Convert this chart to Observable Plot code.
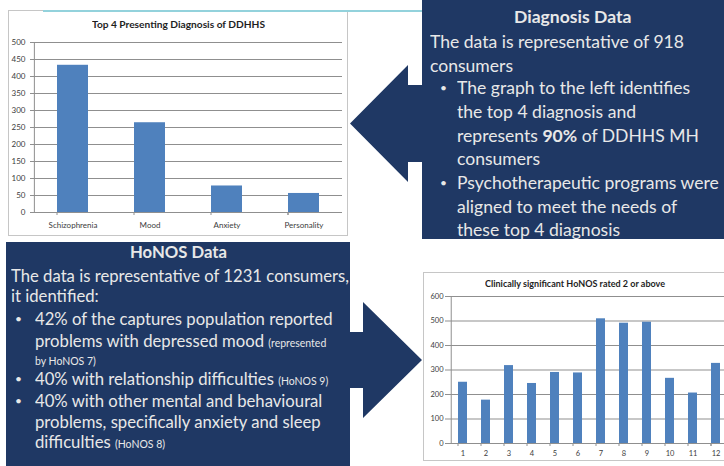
<!DOCTYPE html>
<html><head><meta charset="utf-8">
<script src="https://cdn.jsdelivr.net/npm/d3@7"></script>
<script src="https://cdn.jsdelivr.net/npm/@observablehq/plot@0.6"></script>
<style>
html,body{margin:0;padding:0;background:#fff;}
#slide{position:relative;width:724px;height:466px;overflow:hidden;background:#fff;font-family:Lato,"Open Sans",sans-serif;}
.frame{position:absolute;background:#fff;border:1px solid #c6c6c6;box-sizing:border-box;}
.ctitle{position:absolute;font-weight:bold;color:#1e1e1e;white-space:nowrap;line-height:1;transform-origin:0 50%;}
.line{position:absolute;white-space:nowrap;color:#e8e8e8;line-height:1;transform-origin:0 50%;}
.line small{font-size:11px;}
</style></head><body><div id="slide"></div>
<script>
// ---------- data ----------
const diagCategories = ["Schizophrenia", "Mood", "Anxiety", "Personality"];
const diagCounts = [433, 264, 78, 56];
const diagTicks = [0, 50, 100, 150, 200, 250, 300, 350, 400, 450, 500];

const honosItems = ["1","2","3","4","5","6","7","8","9","10","11","12"];
const honosCounts = [250, 177, 318, 245, 290, 288, 509, 491, 495, 266, 206, 327];
const honosTicks = [0, 100, 200, 300, 400, 500, 600];

const diagTable = diagCategories.map((c, i) => ({category: c, count: diagCounts[i]}));
const honosTable = honosItems.map((c, i) => ({item: c, count: honosCounts[i]}));

const slide = document.getElementById("slide");
const BLUE = "#4f81bd", GRID = "#8f8f8f", NAVY = "#1f3864";

// ---------- chart frames ----------
function frame(l, t, w, h) {
  const d = document.createElement("div");
  d.className = "frame";
  Object.assign(d.style, {left: l + "px", top: t + "px", width: w + "px", height: h + "px"});
  slide.appendChild(d);
}
frame(8, 10, 340, 226);
frame(423, 272, 320, 189);

// teal rule at top of slide
const teal = document.createElement("div");
Object.assign(teal.style, {position: "absolute", left: "43px", top: "10px", width: "380px", height: "1.5px", background: "#93d2dc"});
slide.appendChild(teal);

// ---------- helper: band charts ----------
function bandChart({table, xKey, domain, yMax, ticks, width, height, ml, mr, mt, mb, fontSize, tickPad, xPad}) {
  const n = domain.length;
  const step = (width - ml - mr) / n;
  const tickLen = 3 * yMax / (height - mt - mb);
  const bounds = domain.map(d => ({c: d, dx: -step / 2})).concat([{c: domain[n - 1], dx: step / 2}]);
  return Plot.plot({
    width, height, marginLeft: ml, marginRight: mr, marginTop: mt, marginBottom: mb,
    style: {background: "transparent", fontFamily: "Lato, sans-serif", fontSize: fontSize + "px", color: "#3c3c3c", overflow: "visible"},
    x: {domain, paddingInner: 0.6, paddingOuter: 0.3, label: null},
    y: {domain: [0, yMax], label: null},
    marks: [
      Plot.gridY(ticks.filter(t => t > 0), {stroke: GRID, strokeOpacity: 1}),
      Plot.barY(table, {x: xKey, y: "count", fill: BLUE}),
      Plot.ruleY([0], {stroke: GRID}),
      Plot.ruleX([bounds[0]], {x: "c", dx: bounds[0].dx, y1: 0, y2: yMax, stroke: GRID}),
      Plot.ruleX(bounds, {x: "c", dx: d => d.dx, y1: 0, y2: -tickLen, stroke: GRID}),
      Plot.axisY({ticks, tickSize: 3, tickPadding: tickPad, stroke: GRID, fill: "#3c3c3c"}),
      Plot.axisX({tickSize: 0, tickPadding: xPad, fill: "#3c3c3c"})
    ]
  });
}

const chart1 = bandChart({table: diagTable, xKey: "category", domain: diagCategories, yMax: 500, ticks: diagTicks,
  width: 350, height: 240, ml: 33, mr: 8, mt: 42, mb: 28, fontSize: 8, tickPad: 5, xPad: 10});
Object.assign(chart1.style, {position: "absolute", left: "0px", top: "0px"});
slide.appendChild(chart1);

const chart2 = bandChart({table: honosTable, xKey: "item", domain: honosItems, yMax: 600, ticks: honosTicks,
  width: 340, height: 200, ml: 48, mr: 9.4, mt: 36, mb: 17, fontSize: 7.5, tickPad: 2, xPad: 7});
Object.assign(chart2.style, {position: "absolute", left: "400px", top: "260px"});
slide.appendChild(chart2);

// ---------- callout boxes with arrows ----------
const ns = "http://www.w3.org/2000/svg";
const shapes = document.createElementNS(ns, "svg");
shapes.setAttribute("width", 724); shapes.setAttribute("height", 466);
shapes.style.position = "absolute"; shapes.style.left = "0"; shapes.style.top = "0";
[
  "422,0 730,0 730,239 422,239 422,162 408,162 408,182 350,123.5 408,65 408,85 422,85",
  "6,242 350,242 350,332 363,332 363,302 422,360 363,418 363,388 350,388 350,470 6,470"
].forEach(p => {
  const poly = document.createElementNS(ns, "polygon");
  poly.setAttribute("points", p); poly.setAttribute("fill", NAVY);
  shapes.appendChild(poly);
});
slide.appendChild(shapes);

// ---------- text ----------
function place(lines, size, refTarget) {
  const els = lines.map(L => {
    const d = document.createElement("div");
    d.className = "line";
    d.innerHTML = L.t;
    const fs = L.bullet ? 12 : size;
    d.style.fontSize = fs + "px";
    d.style.top = (L.yc - 0.6 * fs) + "px";
    slide.appendChild(d);
    return {d, L};
  });
  const ref = els.find(e => e.L.ref);
  const s = refTarget / ref.d.getBoundingClientRect().width;
  els.forEach(({d, L}) => {
    if (L.cx !== undefined) {
      const w = d.getBoundingClientRect().width;
      d.style.left = (L.cx - w * s / 2) + "px";
    } else d.style.left = L.x + "px";
    if (!L.bullet) d.style.transform = `scaleX(${s})`;
  });
}

place([
  {t: "<b>Diagnosis Data</b>", cx: 573, yc: 18},
  {t: "The data is representative of 918", x: 430, yc: 43, ref: true},
  {t: "consumers", x: 430, yc: 67},
  {t: "•", x: 440, yc: 89, bullet: true},
  {t: "The graph to the left identifies", x: 457, yc: 89},
  {t: "the top 4 diagnosis and", x: 457, yc: 113},
  {t: "represents <b>90%</b> of DDHHS MH", x: 457, yc: 137},
  {t: "consumers", x: 457, yc: 160},
  {t: "•", x: 440, yc: 184, bullet: true},
  {t: "Psychotherapeutic programs were", x: 457, yc: 184},
  {t: "aligned to meet the needs of", x: 457, yc: 208},
  {t: "these top 4 diagnosis", x: 457, yc: 231}
], 17.5, 254);

place([
  {t: "<b>HoNOS Data</b>", cx: 178, yc: 253},
  {t: "The data is representative of 1231 consumers,", x: 11, yc: 277, ref: true},
  {t: "it identified:", x: 11, yc: 297},
  {t: "•", x: 15, yc: 320, bullet: true},
  {t: "42% of the captures population reported", x: 35, yc: 320},
  {t: "problems with depressed mood <small>(represented</small>", x: 35, yc: 342},
  {t: "<small>by HoNOS 7)</small>", x: 35, yc: 360},
  {t: "•", x: 15, yc: 380, bullet: true},
  {t: "40% with relationship difficulties <small>(HoNOS 9)</small>", x: 35, yc: 380},
  {t: "•", x: 15, yc: 402, bullet: true},
  {t: "40% with other mental and behavioural", x: 35, yc: 402},
  {t: "problems, specifically anxiety and sleep", x: 35, yc: 423},
  {t: "difficulties <small>(HoNOS 8)</small>", x: 35, yc: 443}
], 17.5, 338);

// chart titles
function ctitle(text, cx, yc, size, target) {
  const d = document.createElement("div");
  d.className = "ctitle"; d.textContent = text; d.style.fontSize = size + "px";
  d.style.top = (yc - 0.6 * size) + "px";
  slide.appendChild(d);
  const w = d.getBoundingClientRect().width;
  const s = target / w;
  d.style.left = (cx - target / 2) + "px";
  d.style.transform = `scaleX(${s})`;
}
ctitle("Top 4 Presenting Diagnosis of DDHHS", 178, 25, 10, 173);
ctitle("Clinically significant HoNOS rated 2 or above", 575, 285, 8.5, 180);
</script></body></html>
